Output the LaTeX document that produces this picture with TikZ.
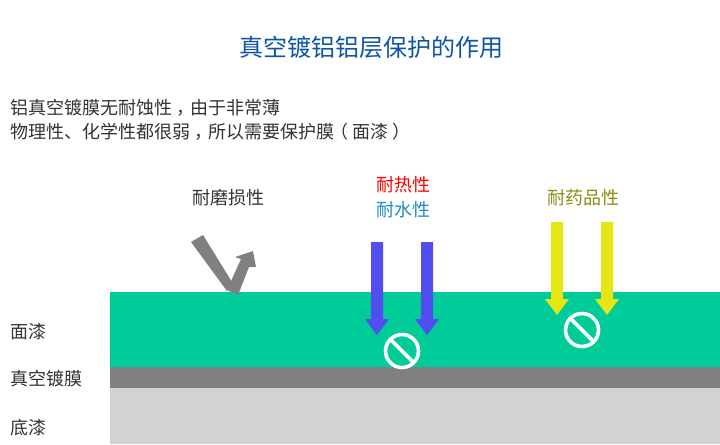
\documentclass[tikz,border=0pt]{standalone}
\usepackage{fontspec}
\setmainfont{Noto Sans CJK SC}
\def\S{0.75}
\def\U{pt}
\def\C{\kern3.3pt，\kern-3.3pt}
\def\PL{\kern-3.3pt（\kern3.3pt}
\def\PR{\kern3.3pt）\kern-3.3pt}
\definecolor{titlecolor}{HTML}{0F55A5}
\definecolor{textcolor}{HTML}{333333}
\definecolor{heatcolor}{HTML}{FF0000}
\definecolor{watercolor}{HTML}{1E8CC8}
\definecolor{drugcolor}{HTML}{8C8C14}
\definecolor{coatcolor}{HTML}{00CC99}
\definecolor{filmcolor}{HTML}{808080}
\definecolor{basecolor}{HTML}{D2D2D2}
\definecolor{bluecolor}{HTML}{524DEF}
\definecolor{yellowcolor}{HTML}{E6E614}
\tikzset{
    label/.style={inner sep=0pt,font=\fontsize{13.5pt}{16pt}\selectfont,text=textcolor},
    leftlabel/.style={label,anchor=west},
    nosign/.style={draw=white,line width=2.7pt,line cap=butt},
}
\begin{document}
\begin{tikzpicture}[x=\S\U,y=-\S\U]
\useasboundingbox (0,0) rectangle (720,444);
\fill[white] (0,0) rectangle (720,444);
% layers
\fill[coatcolor] (110,292) rectangle (720,367);
\fill[filmcolor] (110,367) rectangle (720,388);
\fill[basecolor] (110,388) rectangle (720,444);
% texts
\node[label,font=\fontsize{18pt}{22pt}\selectfont,text=titlecolor] (title) at (371,47) {真空镀铝铝层保护的作用};
\node[leftlabel] (line1) at (10.2,107.5) {铝真空镀膜无耐蚀性\C 由于非常薄};
\node[leftlabel] (line2) at (10.2,131.5) {物理性、化学性都很弱\C 所以需要保护膜\PL 面漆\PR};
\node[label] (wear) at (228.2,197.2) {耐磨损性};
\node[label,text=heatcolor] (heat) at (403.2,185) {耐热性};
\node[label,text=watercolor] (water) at (403.2,209.5) {耐水性};
\node[label,text=drugcolor] (drug) at (583.2,197.2) {耐药品性};
\node[leftlabel] (coat) at (10.2,331.5) {面漆};
\node[leftlabel] (film) at (10.2,378.5) {真空镀膜};
\node[leftlabel] (base) at (10.2,428) {底漆};
% down arrows
\foreach \x in {377,427}{
    \fill[bluecolor] (\x-6,242) -- (\x+6,242) -- (\x+6,319) -- (\x+12,319)
        -- (\x,335) -- (\x-12,319) -- (\x-6,319) -- cycle;
}
\foreach \x in {557,607}{
    \fill[yellowcolor] (\x-6,222) -- (\x+6,222) -- (\x+6,299) -- (\x+12,299)
        -- (\x,315) -- (\x-12,299) -- (\x-6,299) -- cycle;
}
% wear arrow
\fill[filmcolor] (191,242) -- (203,235) -- (232,282) -- (227,291) -- cycle;
\fill[filmcolor] (227,290) -- (238,295) -- (249,267) -- (256,267) -- (253,251)
    -- (235,257) -- (241,259) -- cycle;
% no signs
\foreach \cx/\cy in {402/351,582/330}{
    \draw[nosign] (\cx,\cy) circle (16.5);
    \draw[nosign] (\cx-11.5,\cy-11.5) -- (\cx+11.5,\cy+11.5);
}
\end{tikzpicture}
\end{document}
